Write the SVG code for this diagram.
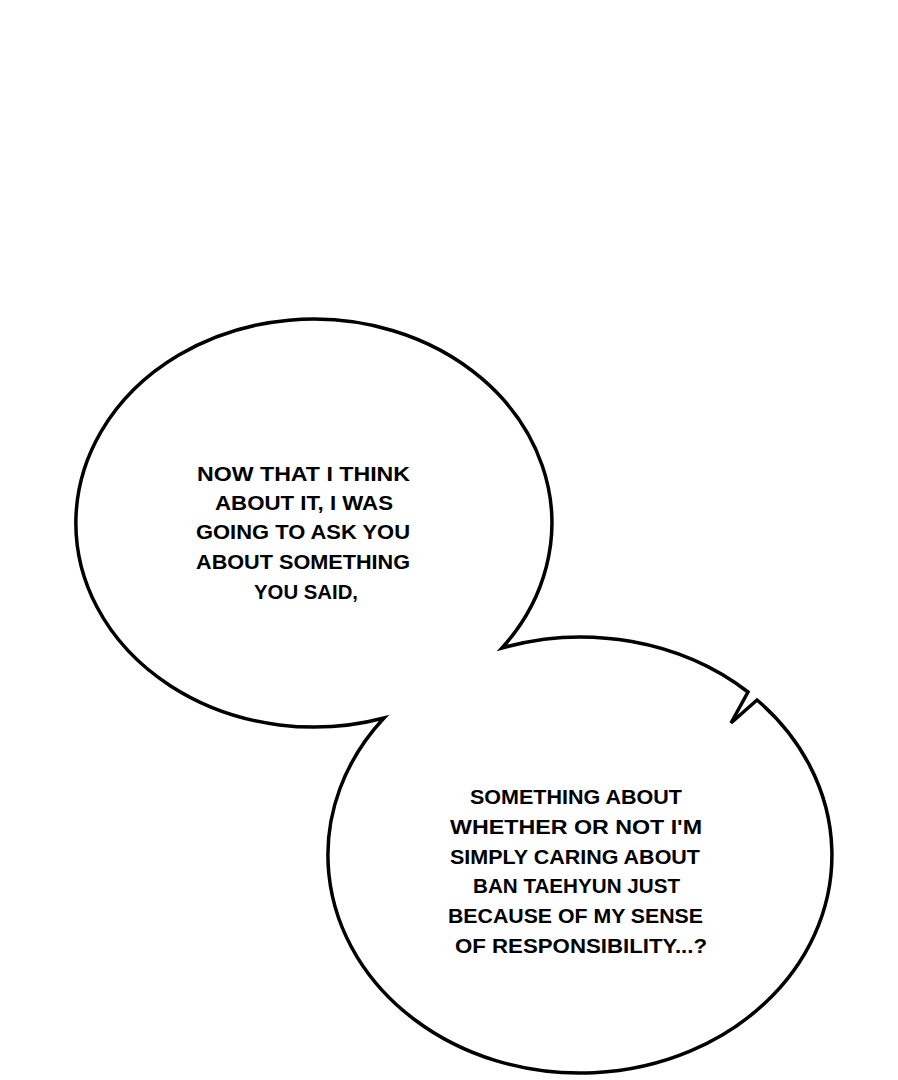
<svg xmlns="http://www.w3.org/2000/svg" width="898" height="1080" viewBox="0 0 898 1080">
<style>
.bubble{fill:#fff;stroke:#000;stroke-width:3.5;stroke-linejoin:miter}
.t{font-family:"Liberation Sans",Arial,sans-serif;font-weight:bold;font-size:21px;fill:#000}
</style>
<rect width="898" height="1080" fill="#fff"/>
<g id="bubbles">
<path class="bubble" d="M502,648 A238,204 0 1 0 384,718 A252,218 0 1 0 757,700 L731,723 L748,692 A252,218 0 0 0 502,648 Z"/>
</g>
<g id="text1">
<text class="t" x="197" y="481" textLength="213" lengthAdjust="spacingAndGlyphs">NOW THAT I THINK</text>
<text class="t" x="215" y="510" textLength="178" lengthAdjust="spacingAndGlyphs">ABOUT IT, I WAS</text>
<text class="t" x="196" y="539" textLength="214" lengthAdjust="spacingAndGlyphs">GOING TO ASK YOU</text>
<text class="t" x="196" y="569" textLength="214" lengthAdjust="spacingAndGlyphs">ABOUT SOMETHING</text>
<text class="t" x="254" y="599" textLength="104" lengthAdjust="spacingAndGlyphs">YOU SAID,</text>
</g>
<g id="text2">
<text class="t" x="470" y="804" textLength="212" lengthAdjust="spacingAndGlyphs">SOMETHING ABOUT</text>
<text class="t" x="450" y="834" textLength="252" lengthAdjust="spacingAndGlyphs">WHETHER OR NOT I'M</text>
<text class="t" x="450" y="864" textLength="250" lengthAdjust="spacingAndGlyphs">SIMPLY CARING ABOUT</text>
<text class="t" x="473" y="893" textLength="207" lengthAdjust="spacingAndGlyphs">BAN TAEHYUN JUST</text>
<text class="t" x="448" y="923" textLength="255" lengthAdjust="spacingAndGlyphs">BECAUSE OF MY SENSE</text>
<text class="t" x="455" y="953" textLength="252" lengthAdjust="spacingAndGlyphs">OF RESPONSIBILITY...?</text>
</g>
</svg>
